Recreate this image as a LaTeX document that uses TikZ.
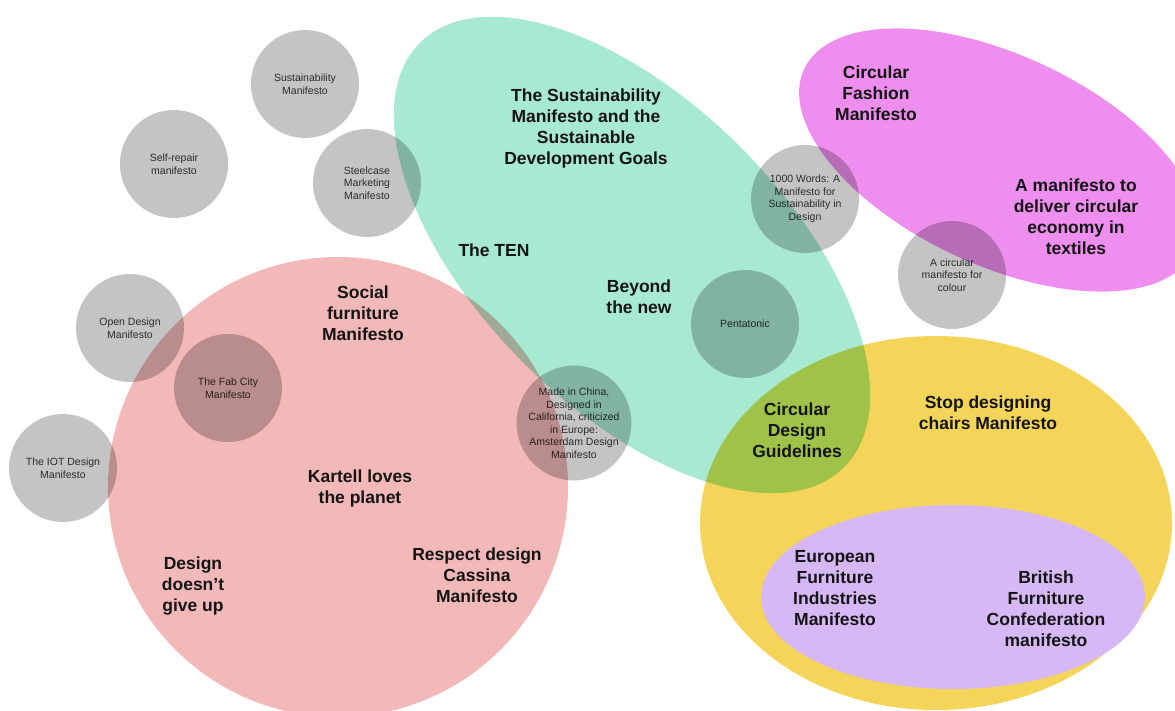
\documentclass[tikz,border=0pt]{standalone}
\usepackage{fontspec}
\setmainfont{Liberation Sans}
\definecolor{mint}{HTML}{A8E9D1}
\definecolor{rose}{HTML}{F3B8B8}
\definecolor{orchid}{HTML}{EE8EEE}
\definecolor{sun}{HTML}{F4D55A}
\definecolor{lav}{HTML}{D6B8F6}
\definecolor{greyc}{HTML}{C4C4C4}
\definecolor{textc}{HTML}{141414}
\definecolor{smallc}{HTML}{383838}
\tikzset{
  big/.style={font=\bfseries\fontsize{17.5}{21}\selectfont, align=center, text=textc, inner sep=0pt},
  bub/.style={circle, fill=greyc, minimum size=108pt, inner sep=0pt, align=center,
              font=\fontsize{10.5}{12.5}\selectfont, text=smallc},
}
\begin{document}
\begin{tikzpicture}[x=1pt,y=-1pt]
\useasboundingbox (0,0) rectangle (1175,711);
\fill[white] (0,0) rectangle (1175,711);
\begin{scope}[blend group=multiply]
  \fill[rose] (338,487) circle [radius=230pt];
  \fill[sun] (936,523) ellipse [x radius=236pt, y radius=187pt];
  \fill[mint, rotate around={-45:(632,255)}] (632,255) ellipse [x radius=300pt, y radius=153pt];
  \fill[orchid, rotate around={-25:(999,160)}] (999,160) ellipse [x radius=215pt, y radius=105pt];
  \node[bub] (sus) at (305,84) {Sustainability\\Manifesto};
  \node[bub] (self) at (174,164) {Self-repair\\manifesto};
  \node[bub] (steel) at (367,183) {Steelcase\\Marketing\\Manifesto};
  \node[bub] (open) at (130,328) {Open Design\\Manifesto};
  \node[bub] (fab) at (228,388) {The Fab City\\Manifesto};
  \node[bub] (iot) at (63,468) {The IOT Design\\Manifesto};
  \node[bub] (china) at (574,423) {Made in China,\\Designed in\\California, criticized\\in Europe:\\Amsterdam Design\\Manifesto};
  \node[bub] (penta) at (745,324) {Pentatonic};
  \node[bub] (words) at (805,199) {1000 Words: A\\Manifesto for\\Sustainability in\\Design};
  \node[bub] (colour) at (952,275) {A circular\\manifesto for\\colour};
\end{scope}
\fill[lav] (953,597) ellipse [x radius=192pt, y radius=92pt];
\node[big] (sdg) at (586,128) {The Sustainability\\Manifesto and the\\Sustainable\\Development Goals};
\node[big] (ten) at (494,250) {The TEN};
\node[big] (beyond) at (639,297) {Beyond\\the new};
\node[big] (fashion) at (876,93) {Circular\\Fashion\\Manifesto};
\node[big] (textiles) at (1076,217) {A manifesto to\\deliver circular\\economy in\\textiles};
\node[big] (social) at (363,313) {Social\\furniture\\Manifesto};
\node[big] (kartell) at (360,488) {Kartell loves\\the planet};
\node[big] (giveup) at (193,586) {Design\\doesn’t\\give up};
\node[big] (cassina) at (477,575) {Respect design\\Cassina\\Manifesto};
\node[big] (cdg) at (797,430) {Circular\\Design\\Guidelines};
\node[big] (chairs) at (988,413) {Stop designing\\chairs Manifesto};
\node[big] (euro) at (835,588) {European\\Furniture\\Industries\\Manifesto};
\node[big] (british) at (1046,609) {British\\Furniture\\Confederation\\manifesto};
\end{tikzpicture}
\end{document}
